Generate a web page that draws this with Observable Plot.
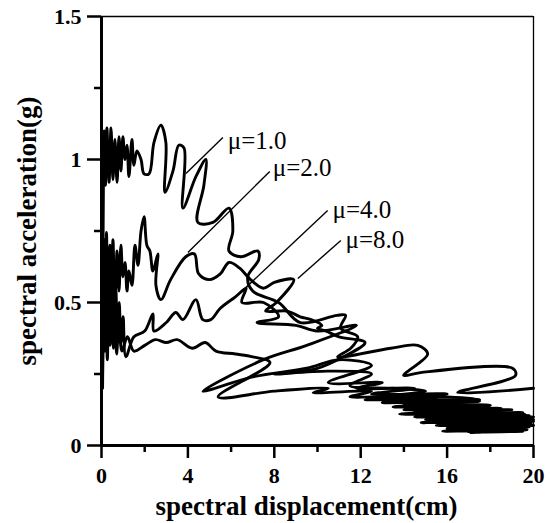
<!DOCTYPE html>
<html>
<head>
<meta charset="utf-8">
<script src="https://cdn.jsdelivr.net/npm/d3@7"></script>
<script src="https://cdn.jsdelivr.net/npm/@observablehq/plot@0.6"></script>
<style>
  html, body { margin: 0; padding: 0; background: #fff; }
  #chart { width: 557px; height: 523px; }
</style>
</head>
<body>
<div id="chart"></div>
<script>
// ---- data (spectral displacement cm, spectral acceleration g) ----
const mu1 = [[0.05,0.35],[0.09,0.93],[0.12,1.10],[0.18,0.91],[0.25,1.11],[0.35,0.92],[0.44,1.11],[0.53,0.93],[0.62,1.07],[0.72,0.92],[0.81,1.08],[0.9,0.96],[0.99,1.08],[1.09,1.0],[1.18,1.05],[1.27,0.94],[1.41,1.07],[1.5,0.98],[1.64,1.03],[1.83,1.0],[1.97,0.95],[2.2,0.95],[2.43,1.06],[2.75,1.12],[2.98,1.06],[2.94,0.885],[3.31,0.96],[3.58,1.05],[3.82,1.04],[3.77,0.83],[4.37,0.94],[4.83,1.0],[4.74,0.91],[4.46,0.78],[5.16,0.78],[5.9,0.83],[6.08,0.75],[5.9,0.68],[6.45,0.66],[7.24,0.68],[7.28,0.65],[6.77,0.59],[7.0,0.54],[8.2,0.50],[9.2,0.43],[10.9,0.455],[11.3,0.455],[11.07,0.41],[11.86,0.38],[11.54,0.34],[10.93,0.31],[13.39,0.34],[14.64,0.35],[15.1,0.32],[13.99,0.245],[14.77,0.255],[19.03,0.27],[19.17,0.245],[16.49,0.185],[20,0.2]];
const mu2 = [[0.05,0.3],[0.12,0.72],[0.16,0.47],[0.23,0.745],[0.3,0.44],[0.39,0.7],[0.46,0.51],[0.53,0.72],[0.62,0.47],[0.72,0.68],[0.81,0.54],[0.9,0.7],[0.99,0.59],[1.09,0.64],[1.18,0.54],[1.27,0.61],[1.41,0.56],[1.55,0.70],[1.69,0.63],[1.83,0.75],[1.97,0.80],[2.1,0.70],[2.24,0.68],[2.38,0.61],[2.61,0.67],[2.52,0.56],[2.75,0.51],[3.2,0.58],[3.9,0.66],[4.3,0.67],[4.5,0.6],[5.0,0.58],[5.5,0.6],[5.9,0.64],[6.4,0.62],[6.9,0.58],[7.5,0.55],[8.0,0.57],[8.9,0.58],[8.1,0.5],[7.6,0.47],[8.6,0.47],[9.2,0.45],[9.7,0.44],[10.2,0.42],[10.0,0.41],[10.4,0.4],[11,0.38],[12.2,0.36],[11.2,0.31],[10,0.27],[8.0,0.25],[10.5,0.26],[12.5,0.25],[11.5,0.21],[13.5,0.2],[15,0.19],[13,0.17],[16,0.17],[17.5,0.16],[14.5,0.14],[18,0.13],[16,0.11],[19.5,0.11],[17,0.09],[20,0.09]];
const mu4 = [[0.05,0.25],[0.1,0.6],[0.15,0.4],[0.22,0.62],[0.28,0.38],[0.36,0.58],[0.43,0.42],[0.5,0.6],[0.58,0.4],[0.66,0.55],[0.74,0.38],[0.82,0.5],[0.9,0.36],[1.0,0.45],[1.13,0.31],[1.5,0.38],[2.0,0.40],[2.38,0.46],[2.43,0.40],[3.0,0.43],[3.44,0.465],[3.77,0.44],[4.37,0.51],[4.69,0.44],[5.06,0.44],[5.5,0.48],[6.2,0.52],[6.7,0.55],[6.5,0.5],[7.5,0.5],[8.2,0.45],[7.2,0.43],[9,0.42],[10.0,0.4],[11.8,0.42],[9.5,0.35],[7.5,0.3],[4.7,0.19],[7,0.24],[9.5,0.27],[11,0.3],[12.5,0.28],[10.5,0.22],[13,0.22],[11.8,0.2],[14.5,0.2],[12.5,0.18],[16,0.18],[13,0.16],[17.5,0.16],[14,0.145],[18,0.14],[14.5,0.12],[19,0.125],[15,0.11],[19.6,0.11],[15.5,0.095],[20,0.1],[16,0.08],[20,0.085],[17,0.07],[20,0.07]];
const mu8 = [[0.05,0.2],[0.1,0.5],[0.15,0.33],[0.2,0.52],[0.27,0.3],[0.33,0.48],[0.4,0.35],[0.47,0.5],[0.55,0.34],[0.62,0.45],[0.7,0.32],[0.8,0.42],[0.95,0.33],[1.2,0.38],[1.5,0.33],[2.0,0.35],[2.5,0.37],[3.0,0.36],[3.5,0.37],[4.2,0.34],[4.8,0.36],[5.3,0.33],[6.2,0.32],[7.0,0.31],[7.8,0.29],[5.4,0.17],[8,0.19],[10.5,0.2],[9.8,0.185],[12.5,0.19],[11.5,0.17],[14,0.175],[12.2,0.16],[15.5,0.165],[13,0.15],[17.5,0.155],[13.5,0.135],[17,0.14],[14,0.125],[18.5,0.13],[13.8,0.11],[19.5,0.115],[14.5,0.1],[19.8,0.105],[15,0.09],[19.9,0.095],[14.8,0.08],[19.9,0.085],[15.5,0.07],[19.9,0.075],[16,0.06],[19.8,0.065],[15.8,0.05],[19.7,0.055],[17,0.045],[19.5,0.05]];

const curveNames = ["μ=1.0", "μ=2.0", "μ=4.0", "μ=8.0"];
const labelX = [5.85, 7.93, 10.7, 11.3];
const labelY = [1.063, 0.972, 0.825, 0.72];
const leaderX1 = [3.91, 4.0, 6.68, 9.09];
const leaderY1 = [0.951, 0.675, 0.552, 0.584];
const leaderX2 = [5.62, 7.79, 10.47, 11.08];
const leaderY2 = [1.077, 0.958, 0.822, 0.717];

const xMajor = [0, 4, 8, 12, 16, 20];
const xMinor = [2, 6, 10, 14, 18];
const yMajor = [0, 0.5, 1, 1.5];
const yMinor = [0.25, 0.75, 1.25];
const yTickLabels = ["0", "0.5", "1", "1.5"];
const xTitle = "spectral displacement(cm)";
const yTitle = "spectral acceleration(g)";

// ---- build ----
const series = [mu1, mu2, mu4, mu8];
const rows = series.flatMap((s, i) => s.map(([x, y]) => ({x, y, curve: curveNames[i]})));
const labels = curveNames.map((name, i) => ({name, x: labelX[i], y: labelY[i], x1: leaderX1[i], y1: leaderY1[i], x2: leaderX2[i], y2: leaderY2[i]}));

const serif = "'Liberation Serif', 'Times New Roman', serif";
const chart = Plot.plot({
  width: 557,
  height: 523,
  marginLeft: 101,
  marginRight: 24,
  marginTop: 16,
  marginBottom: 78,
  style: {fontFamily: serif, background: "#fff", color: "#000"},
  x: {domain: [0, 20], axis: null},
  y: {domain: [0, 1.5], axis: null},
  marks: [
    Plot.line(rows, {x: "x", y: "y", z: "curve", stroke: "#000", strokeWidth: 2.9, strokeLinejoin: "round", strokeLinecap: "round", curve: "catmull-rom"}),
    Plot.link(labels, {x1: "x1", y1: "y1", x2: "x2", y2: "y2", stroke: "#000", strokeWidth: 1.4}),
    Plot.text(labels, {x: "x", y: "y", text: "name", textAnchor: "start", fontSize: 25, fontFamily: serif, fill: "#000"}),
    Plot.ruleY([1.5], {stroke: "#000", strokeWidth: 1.3}),
    Plot.ruleX([20], {stroke: "#000", strokeWidth: 1.3}),
    Plot.ruleX([0], {stroke: "#000", strokeWidth: 3}),
    Plot.ruleY([0], {stroke: "#000", strokeWidth: 3}),
    Plot.axisY(yMajor, {tickSize: 14, tickPadding: 6, strokeWidth: 2.5, tickFormat: (d) => yTickLabels[yMajor.indexOf(d)], fontSize: 22, fontWeight: "bold", fontFamily: serif, label: null}),
    Plot.axisY(yMinor, {tickSize: 7, strokeWidth: 2.5, tickFormat: () => "", label: null}),
    Plot.axisX(xMajor, {tickSize: 13, tickPadding: 9, strokeWidth: 2.5, tickFormat: d => String(d), fontSize: 22, fontWeight: "bold", fontFamily: serif, label: null}),
    Plot.axisX(xMinor, {tickSize: 7, strokeWidth: 2.5, tickFormat: () => "", label: null}),
    Plot.text([xTitle], {frameAnchor: "bottom", textAnchor: "middle", lineAnchor: "middle", dx: -11, dy: 61, fontSize: 27, fontWeight: "bold", fontFamily: serif, fill: "#000"}),
    Plot.text([yTitle], {frameAnchor: "left", textAnchor: "middle", lineAnchor: "middle", dx: -74, rotate: -90, fontSize: 27, fontWeight: "bold", fontFamily: serif, fill: "#000"})
  ]
});
document.getElementById("chart").appendChild(chart);
</script>
</body>
</html>
